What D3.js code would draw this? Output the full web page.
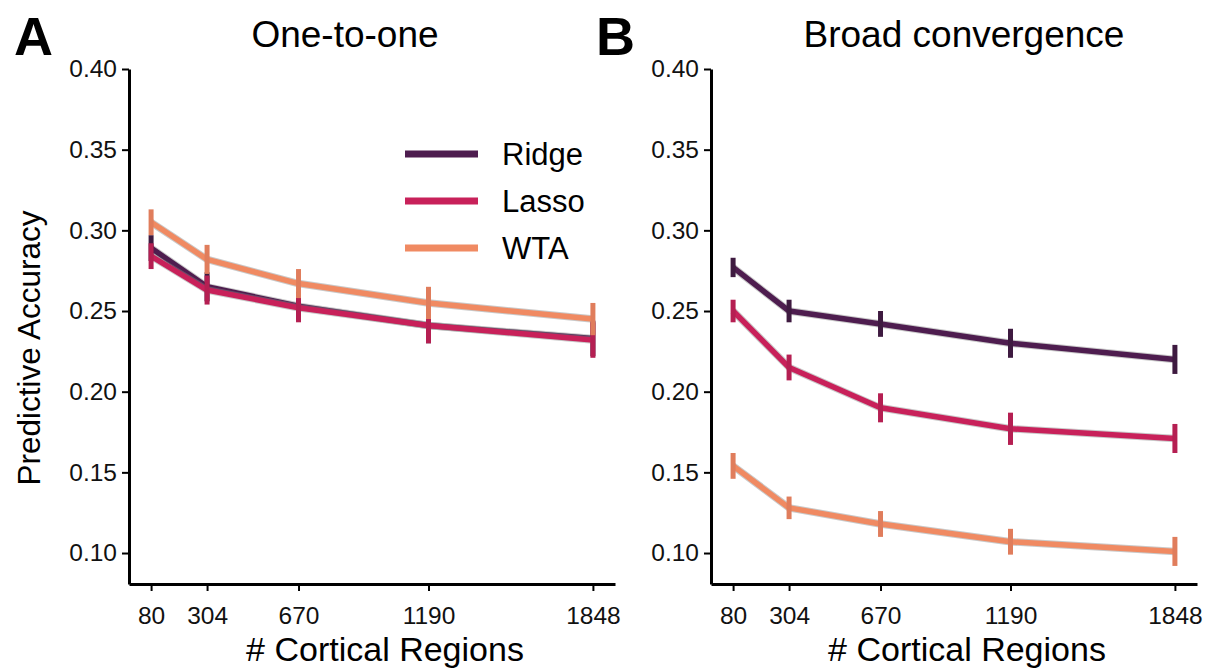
<!DOCTYPE html>
<html>
<head>
<meta charset="utf-8">
<script src="https://cdn.jsdelivr.net/npm/d3@7"></script>
<style>
  body { margin: 0; background: #fff; }
  svg { font-family: "Liberation Sans", Arial, sans-serif; }
  .axis path, .axis line { stroke: #000; }
</style>
</head>
<body>
<div id="chart"></div>
<script>
// # cortical regions (x values)
const regions = [80, 304, 670, 1190, 1848];
const yTicks = [0.10, 0.15, 0.20, 0.25, 0.30, 0.35, 0.40];

// panel A: one-to-one
const ridgeA = [0.289, 0.265, 0.253, 0.241, 0.233];
const lassoA = [0.284, 0.263, 0.252, 0.241, 0.232];
const wtaA   = [0.305, 0.282, 0.267, 0.255, 0.245];
const ridgeErrA = [0.008, 0.009, 0.009, 0.011, 0.011];
const lassoErrA = [0.008, 0.009, 0.009, 0.011, 0.011];
const wtaErrA   = [0.008, 0.009, 0.009, 0.010, 0.010];

// panel B: broad convergence
const ridgeB = [0.277, 0.250, 0.242, 0.230, 0.220];
const lassoB = [0.250, 0.215, 0.190, 0.177, 0.171];
const wtaB   = [0.154, 0.128, 0.118, 0.107, 0.101];
const ridgeErrB = [0.006, 0.007, 0.008, 0.009, 0.009];
const lassoErrB = [0.007, 0.008, 0.009, 0.010, 0.009];
const wtaErrB   = [0.008, 0.007, 0.008, 0.008, 0.009];

const seriesNames = ["Ridge", "Lasso", "WTA"];
const colors = { Ridge: "#4e1d4f", Lasso: "#c8215a", WTA: "#f08a62" };
const barColors = { Ridge: "#3e1a40", Lasso: "#b51f52", WTA: "#e07d5c" };

const W = 1207, H = 670;
const svg = d3.select("#chart").append("svg")
  .attr("width", W).attr("height", H);

// x domain with matplotlib-like 5% padding
const pad = (1848 - 80) * 0.05;
const xDomain = [80 - pad, 1848 + pad];
const yDomain = [0.0808, 0.40];

function panel(left, letter, title, titleX, data) {
  const x = d3.scaleLinear().domain(xDomain).range([left, left + 486]);
  const y = d3.scaleLinear().domain(yDomain).range([584, 69]);
  const g = svg.append("g");

  // axes
  const xAxis = g.append("g")
    .attr("class", "axis")
    .attr("transform", `translate(0,584)`)
    .call(d3.axisBottom(x).tickValues(regions).tickFormat(d3.format("d")).tickSize(7).tickPadding(16).tickSizeOuter(0));
  xAxis.select(".domain").attr("stroke-width", 3);
  xAxis.selectAll(".tick line").attr("stroke-width", 2);
  xAxis.selectAll("text").attr("font-size", 24.5).attr("fill", "#111")
    .attr("font-family", "Liberation Sans, Arial, sans-serif");

  const yAxis = g.append("g")
    .attr("class", "axis")
    .attr("transform", `translate(${left},0)`)
    .call(d3.axisLeft(y).tickValues(yTicks).tickFormat(d3.format(".2f")).tickSize(7).tickPadding(5).tickSizeOuter(0));
  yAxis.select(".domain").attr("stroke-width", 3);
  yAxis.selectAll(".tick line").attr("stroke-width", 2);
  yAxis.selectAll("text").attr("font-size", 24.5).attr("fill", "#111")
    .attr("font-family", "Liberation Sans, Arial, sans-serif");

  // lines + error bars
  const line = d3.line().x((d) => x(d.x)).y((d) => y(d.v));
  for (const name of seriesNames) {
    const pts = regions.map((r, i) => ({ x: r, v: data[name].vals[i], e: data[name].errs[i] }));
    g.append("path").datum(pts)
      .attr("d", line)
      .attr("fill", "none")
      .attr("stroke", "#888")
      .attr("stroke-opacity", 0.45)
      .attr("stroke-width", 7.5)
      .attr("stroke-linejoin", "round");
    g.append("path").datum(pts)
      .attr("d", line)
      .attr("fill", "none")
      .attr("stroke", colors[name])
      .attr("stroke-width", 5.5)
      .attr("stroke-linejoin", "round");
    g.selectAll(null).data(pts).join("line")
      .attr("x1", (d) => x(d.x)).attr("x2", (d) => x(d.x))
      .attr("y1", (d) => y(d.v - d.e)).attr("y2", (d) => y(d.v + d.e))
      .attr("stroke", barColors[name])
      .attr("stroke-width", 5);
  }

  // labels
  g.append("text").attr("x", titleX).attr("y", 47)
    .attr("text-anchor", "middle").attr("font-size", 37).text(title);
  g.append("text").attr("x", left + 256).attr("y", 661)
    .attr("text-anchor", "middle").attr("font-size", 34).text("# Cortical Regions");
  g.append("text").attr("x", left - 115).attr("y", 55)
    .attr("font-size", 54).attr("font-weight", "bold").text(letter);
  return { x, y };
}

panel(129, "A", "One-to-one", 345, {
  Ridge: { vals: ridgeA, errs: ridgeErrA },
  Lasso: { vals: lassoA, errs: lassoErrA },
  WTA: { vals: wtaA, errs: wtaErrA },
});

panel(711, "B", "Broad convergence", 964, {
  Ridge: { vals: ridgeB, errs: ridgeErrB },
  Lasso: { vals: lassoB, errs: lassoErrB },
  WTA: { vals: wtaB, errs: wtaErrB },
});

// y label
svg.append("text")
  .attr("transform", "translate(40,348) rotate(-90)")
  .attr("text-anchor", "middle").attr("font-size", 31.5)
  .text("Predictive Accuracy");

// legend (panel A)
const legend = svg.append("g").attr("transform", "translate(405,154)");
seriesNames.forEach((name, i) => {
  const row = legend.append("g").attr("transform", `translate(0,${i * 47})`);
  row.append("line").attr("x1", 0).attr("x2", 73).attr("y1", 0).attr("y2", 0)
    .attr("stroke", colors[name]).attr("stroke-width", 7);
  row.append("text").attr("x", 97).attr("y", 11).attr("font-size", 31).text(name);
});
</script>
</body>
</html>
